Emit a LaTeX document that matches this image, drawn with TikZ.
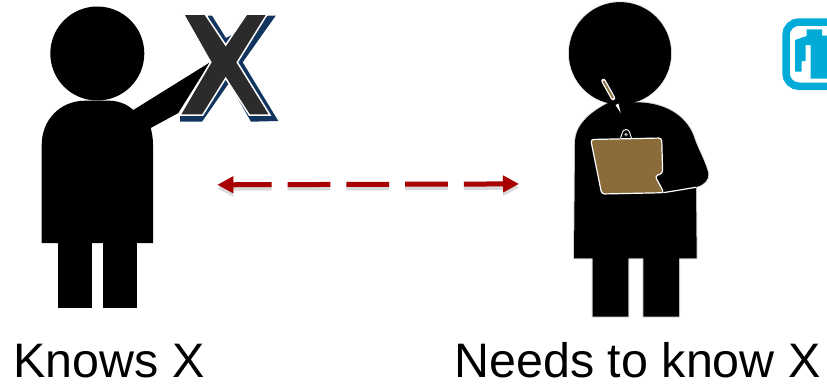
\documentclass[tikz,border=0pt]{standalone}
\usepackage{fontspec}
\setmainfont{Liberation Sans}
\usetikzlibrary{arrows.meta}
\definecolor{figblue}{HTML}{12355F}
\definecolor{figdark}{HTML}{2B2B2B}
\definecolor{figred}{HTML}{A80000}
\definecolor{figbrown}{HTML}{8A6C3A}
\definecolor{logoblue}{HTML}{00ACD7}
\tikzset{
    caption/.style={anchor=base west, inner sep=0pt, font=\fontsize{48.4}{50}\selectfont, text=black},
    teacher/.style={fill=black},
    learner/.style={fill=black, preaction={draw=gray!30, line width=2pt}},
    dashline/.style={line width=5pt, {Triangle[length=16pt, width=16pt]}-{Triangle[length=16pt, width=16pt]}, dash pattern=on 42.7pt off 16pt, dash phase=3.3pt}
}
\begin{document}
\begin{tikzpicture}[x=1pt, y=-1pt]
        \useasboundingbox (0,0) rectangle (827,383);

        % -----------------------------------------------------------------
        % LEFT PERSON
        % -----------------------------------------------------------------
        \fill[teacher] (97.3,53.5) circle[radius=47pt];
        \fill[teacher] (41.7,243) -- (41.7,145) .. controls (41.7,120) and (60,100.7) .. (85,100.7) -- (110,100.7) .. controls (120,101) and (128,105) .. (133.3,110) -- (210,62.3) -- (178.3,113) -- (150.7,128) .. controls (152,133) and (153,138) .. (153,145) -- (153,243) -- cycle;
        \fill[teacher] (57.7,240) rectangle (91.7,308);
        \fill[teacher] (103.3,240) rectangle (137.3,308);

        % -----------------------------------------------------------------
        % THE LETTER
        % -----------------------------------------------------------------
        \fill[figblue] (208,15.7) -- (212,15.7) -- (226,38) -- (268,15.7) -- (275.7,15.7) -- (242.7,62.3) -- (278.3,121) -- (251,121.7) -- (229,83) -- (202,121.7) -- (180,121.7) -- (180,116) -- (215,62) -- cycle;
        \draw[fill=figdark, draw=white, line width=1.5pt, miter limit=3] (183.3,14) -- (205,14) -- (225.7,45) -- (246.7,14) -- (267.3,14) -- (237.3,62.3) -- (270,115) -- (249.3,115) -- (225.7,78.3) -- (202.7,115) -- (180,115) -- (210.7,62.3) -- cycle;

        % -----------------------------------------------------------------
        % DASHED ARROW
        % -----------------------------------------------------------------
        \coordinate (arrowL) at (217.3,184.8);
        \coordinate (arrowR) at (519,183.9);
        \draw[dashline, draw=black!15, transform canvas={yshift=-3.5pt}] (arrowL) -- (arrowR);
        \draw[dashline, draw=figred] (arrowL) -- (arrowR);

        % -----------------------------------------------------------------
        % RIGHT PERSON
        % -----------------------------------------------------------------
        \fill[learner] (620,53.3) circle[radius=51pt];
        \fill[learner] (610,102) .. controls (590,112) and (575,125) .. (575,143) -- (574,258.3) -- (592.7,258.3) -- (592.7,316.7) -- (628.3,316.7) -- (628.3,258.3) -- (643.3,258.3) -- (643.3,316.7) -- (679,316.7) -- (679,258.3) -- (696.7,258.3) -- (696,187) .. controls (704,185) and (709,180) .. (708.3,173.3) .. controls (705,160) and (698,150) .. (693.3,135) .. controls (685,115) and (665,103) .. (637.7,102.3);
        \fill[black] (620,53.3) circle[radius=51pt];
        \draw[white, line width=1.2pt] (663.3,192.7) -- (696,187.3);

        % pencil
        \draw[white, line width=4.5pt, line cap=round] (603.5,81) -- (613,98);
        \draw[figbrown, line width=1.8pt] (603.5,81) -- (613,98);
        \fill[white] (615.5,105) -- (618.5,103.5) -- (620.7,113) -- cycle;

        % clipboard
        \draw[white, line width=0.9pt] (620.5,138) .. controls (622,136) and (621.5,129.5) .. (626,129.5) .. controls (630.5,129.5) and (630,136) .. (631.5,138);
        \fill[gray!70] (626,134.5) circle[radius=1.8pt];
        \draw[fill=figbrown, draw=white, line width=1.2pt, rounded corners=3pt] (590.7,139.5) -- (661.7,138) -- (662.7,173.3) -- (655,176) -- (664,192.7) -- (601.7,194) -- cycle;

        % -----------------------------------------------------------------
        % LOGO
        % -----------------------------------------------------------------
        \draw[logoblue, line width=7.5pt, rounded corners=13pt] (827,22) -- (786,22) -- (786,86.3) -- (827,86.3);
        \fill[logoblue] (806.5,29.3) -- (822,29.3) -- (822,35.5) -- (827,35.5) -- (827,78.5) -- (810.5,78.5) -- (810.5,45) -- (805.5,45) -- (805.5,61) -- (801.5,61) -- (801.5,71.7) -- (795,71.7) -- (795,40) -- (806.5,36) -- cycle;

        % -----------------------------------------------------------------
        % LABELS
        % -----------------------------------------------------------------
        \node[caption] (knows) at (13.5,377.7) {Knows X};
        \node[caption] (needs) at (454.5,377.7) {Needs to know X};
\end{tikzpicture}
\end{document}
